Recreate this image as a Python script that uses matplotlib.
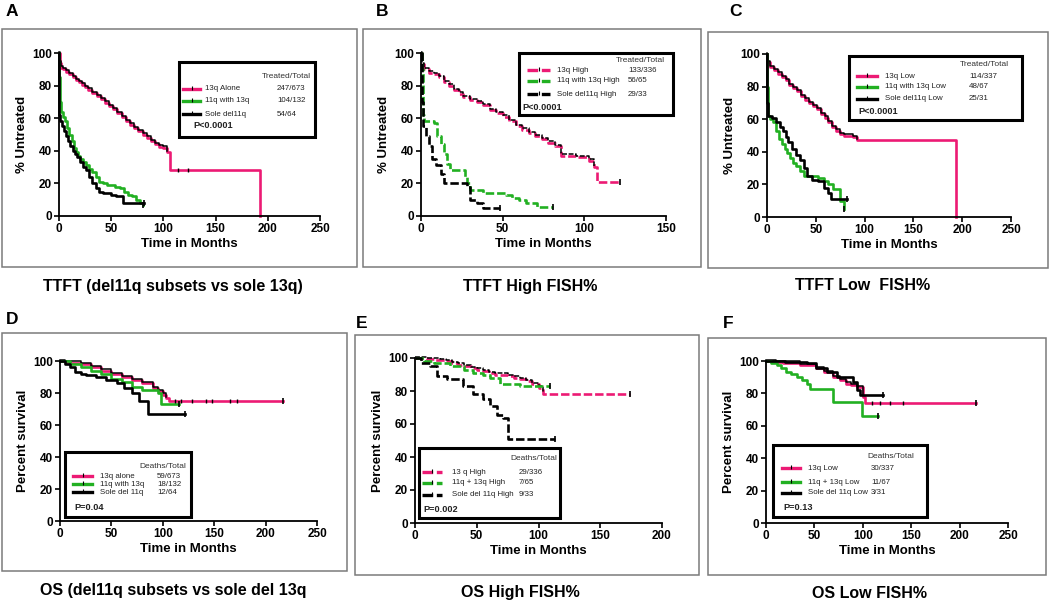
import numpy as np
import matplotlib
matplotlib.use('Agg')
import matplotlib.pyplot as plt
from matplotlib.patches import Rectangle

plt.rcParams['font.family'] = ['Liberation Sans', 'DejaVu Sans']

PINK = '#ec1a74'
GREEN = '#22b022'
BLACK = '#000000'

# ---------------- data ----------------
# A: TTFT del11q subsets vs sole 13q
a_13q_t = [0, 0.5, 2, 4, 7, 10, 13, 16, 19, 22, 25, 28, 32, 36, 40, 44, 48, 52, 56, 60,
           64, 68, 72, 76, 80, 84, 88, 92, 96, 100, 103, 106, 192.5]
a_13q_s = [100, 94, 91, 90, 88.5, 87, 85, 83.5, 82, 80.5, 79, 77.5, 75.5, 73.5, 71.5, 69.5,
           67.5, 65.5, 63, 60.5, 58, 56, 54, 52, 50, 48, 46, 44, 42.5, 42, 39, 28.5, 0]
a_11q_t = [0, 0.3, 1, 2, 4, 6, 8, 10, 12, 14, 16, 18, 20, 23, 26, 29, 32, 35, 38, 42, 46,
           50, 54, 58, 62, 66, 70, 74, 78, 80.5]
a_11q_s = [100, 85, 70, 64, 61, 58, 54, 50, 46, 42, 39, 37, 35, 33, 31, 29, 27, 24, 21, 20,
           19, 19, 18, 17, 15, 13, 12, 10, 8, 7]
a_sole_t = [0, 0.3, 1, 3, 5, 7, 9, 11, 13, 15, 17, 20, 23, 26, 29, 32, 35, 38, 42, 46, 50,
            55, 61, 70, 81]
a_sole_s = [100, 62, 58, 55, 52, 49, 46, 43, 40, 38, 36, 33, 30, 28, 24, 20, 17, 15, 14, 14,
            13, 12, 8, 8, 8]

# B: TTFT high FISH%
b_13q_t = [0, 0.5, 2, 5, 8, 11, 14, 17, 20, 23, 26, 30, 34, 38, 42, 46, 50, 54, 58, 62, 66,
           70, 74, 78, 82, 86, 90, 95, 100, 103, 106, 108, 122]
b_13q_s = [100, 93, 90, 88, 87, 85, 82, 80, 77, 75, 73, 71, 70, 68, 65, 63, 61, 58, 55, 53,
           51, 49, 47, 45, 43, 37, 37, 36, 36, 34, 30, 21, 21]
b_11q_t = [0, 0.5, 1, 2, 8, 10, 12, 14, 16, 18, 24, 27, 28, 30, 38, 46, 52, 56, 60, 64, 68, 71, 81]
b_11q_s = [100, 90, 62, 58, 57, 49, 44, 38, 32, 28, 28, 24, 20, 16, 14, 14, 13, 11, 10, 8, 8,
           5.5, 5.5]
b_sole_t = [0, 0.5, 1.5, 3, 5, 7, 9, 12, 14, 18, 24, 28, 30, 34, 38, 48.5]
b_sole_s = [100, 70, 55, 49, 43, 35, 31, 26, 20, 20, 20, 18, 10, 8, 5, 5]

# C: TTFT low FISH%
c_13q_t = [0, 0.5, 3, 7, 11, 15, 19, 23, 27, 31, 35, 39, 43, 47, 51, 55, 59, 63, 67, 71, 75,
           79, 83, 88, 92, 194]
c_13q_s = [100, 95, 92, 90, 88, 86, 84, 81, 79, 77, 74, 72, 70, 68, 66, 63, 61, 58, 55, 53,
           51, 50, 50, 49, 47.3, 0]
c_11q_t = [0, 0.3, 1, 3, 6, 9, 12, 15, 18, 21, 24, 27, 30, 34, 38, 45, 52, 58, 62, 68, 72, 75, 78.5]
c_11q_s = [100, 80, 62, 60, 58, 53, 48, 45, 42, 39, 36, 33, 31, 28, 25, 25, 24, 22, 20, 17,
           17, 10, 5]
c_sole_t = [0, 0.3, 1, 5, 9, 13, 16, 19, 22, 26, 30, 34, 38, 41, 46, 52, 58, 62, 66, 82]
c_sole_s = [100, 70, 62, 61, 58, 55, 53, 49, 46, 42, 38, 35, 30, 25, 23, 22, 18, 15, 11, 11]

# D: OS del11q subsets vs sole del13q
d_13q_t = [0, 5, 10, 20, 30, 40, 50, 60, 70, 80, 90, 95, 100, 103, 106, 217]
d_13q_s = [100, 99.5, 99, 98, 96, 94, 92, 90, 88, 86, 83, 81, 79, 77, 75, 75]
d_11q_t = [0, 10, 20, 30, 40, 50, 60, 70, 80, 95, 98, 116]
d_11q_s = [100, 98, 96, 94, 92, 89, 87, 84, 82, 80, 73, 73]
d_sole_t = [0, 5, 10, 15, 20, 25, 35, 45, 55, 62, 70, 77, 86, 122]
d_sole_s = [100, 98, 96, 93, 92, 91, 90, 88, 86, 83, 80, 75, 67, 67]

# E: OS high FISH%
e_13q_t = [0, 5, 10, 15, 20, 25, 30, 35, 40, 45, 50, 55, 60, 65, 70, 75, 80, 85, 90, 95,
           100, 104, 174]
e_13q_s = [100, 99.8, 99.5, 99, 98.5, 98, 97, 96, 95, 94, 93, 92, 91, 90, 90, 89, 88, 87,
           86, 84, 82, 78, 78]
e_11q_t = [0, 7, 15, 28, 40, 47, 55, 61, 69, 85, 104, 109]
e_11q_s = [100, 98, 97, 95, 93, 91, 90, 88, 84, 83, 83, 83]
e_sole_t = [0, 5, 12, 17.6, 26, 39, 47, 55, 61, 66, 71.6, 75.7, 113.5]
e_sole_s = [100, 97, 95, 89, 87, 83, 78, 75, 71, 65.5, 63.5, 51, 51]

# F: OS low FISH%
f_13q_t = [0, 10, 18, 35, 52, 60, 69.5, 76, 83, 88, 93.5, 100, 102, 217]
f_13q_s = [100, 99.5, 99, 97.5, 95.5, 93, 90, 88, 86, 85, 84, 78, 74, 74]
f_11q_t = [0, 5, 11, 16, 21, 26, 31.6, 37, 42, 45, 66, 69.5, 97, 98.7, 116]
f_11q_s = [100, 99, 97.5, 95.5, 93.4, 92, 90, 88, 86, 83, 83, 75, 75, 66, 66]
f_sole_t = [0, 20, 42, 52, 62.6, 73, 80, 90, 93.5, 97, 121]
f_sole_s = [100, 99.5, 98.5, 95.5, 93.4, 90, 90, 87, 82, 79, 79]

# ---------------- figure ----------------
W, H = 1050, 601
fig = plt.figure(figsize=(W / 100, H / 100), dpi=100)
fig.patch.set_facecolor('white')


def px_axes(x0, x1, ybot, ytop):
    return fig.add_axes([x0 / W, 1 - ybot / H, (x1 - x0) / W, (ybot - ytop) / H])


def km(ax, t, s, color, ls='-', over=None):
    ax.plot(t, s, drawstyle='steps-post', color=color, lw=1.9, linestyle=ls, clip_on=False)
    if over is not None:
        n = sum(1 for x in t if x <= over)
        ax.plot(t[:n], np.array(s[:n]) + 0.8, drawstyle='steps-post', color=BLACK, lw=1.1,
                linestyle=ls, clip_on=False)
    if s[-1] > 0:
        ax.plot(t[-1], s[-1], marker='|', color=BLACK, ms=4, mew=1.2, clip_on=False)


def style(ax, xmax, xstep, ylabel):
    ax.set_xlim(0, xmax)
    ax.set_ylim(0, 100)
    ax.set_xticks(np.arange(0, xmax + 1, xstep))
    ax.set_yticks(np.arange(0, 101, 20))
    for sp in ['top', 'right']:
        ax.spines[sp].set_visible(False)
    for sp in ['left', 'bottom']:
        ax.spines[sp].set_linewidth(1.3)
    ax.tick_params(direction='out', length=3.5, width=1.2, labelsize=8.5, pad=1.5)
    for lab in ax.get_xticklabels() + ax.get_yticklabels():
        lab.set_fontweight('bold')
    ax.set_xlabel('Time in Months', fontsize=9.5, fontweight='bold', labelpad=2)
    ax.set_ylabel(ylabel, fontsize=9.5, fontweight='bold', labelpad=3)
    ax.patch.set_alpha(0)


dash = (0, (3.2, 1.1))

axA = px_axes(59, 320, 216, 53)
km(axA, a_13q_t, a_13q_s, PINK, over=104)
km(axA, a_11q_t, a_11q_s, GREEN)
km(axA, a_sole_t, a_sole_s, BLACK)
axA.plot([114, 124], [28.5, 28.5], ls='none', marker='|', color=BLACK, ms=3)
style(axA, 250, 50, '% Untreated')

axB = px_axes(421, 666, 216, 53)
km(axB, b_13q_t, b_13q_s, PINK, ls=dash, over=107)
km(axB, b_11q_t, b_11q_s, GREEN, ls=dash)
km(axB, b_sole_t, b_sole_s, BLACK, ls=dash)
style(axB, 150, 50, '% Untreated')

axC = px_axes(767, 1011, 217, 54)
km(axC, c_13q_t, c_13q_s, PINK, over=106)
km(axC, c_11q_t, c_11q_s, GREEN)
km(axC, c_sole_t, c_sole_s, BLACK)
style(axC, 250, 50, '% Untreated')

axD = px_axes(60, 317, 521, 361)
km(axD, d_13q_t, d_13q_s, PINK, over=104)
km(axD, d_11q_t, d_11q_s, GREEN)
km(axD, d_sole_t, d_sole_s, BLACK)
axD.plot([112, 118, 128, 142, 148, 165, 172], [75] * 7, ls='none', marker='|', color=BLACK, ms=3)
style(axD, 250, 50, 'Percent survival')

axE = px_axes(415, 662, 523, 358)
km(axE, e_13q_t, e_13q_s, PINK, ls=dash, over=104)
km(axE, e_11q_t, e_11q_s, GREEN, ls=dash)
km(axE, e_sole_t, e_sole_s, BLACK, ls=dash)
style(axE, 200, 50, 'Percent survival')

axF = px_axes(766, 1008, 523, 361)
km(axF, f_13q_t, f_13q_s, PINK, over=101)
km(axF, f_11q_t, f_11q_s, GREEN)
km(axF, f_sole_t, f_sole_s, BLACK)
axF.plot([110, 118, 128, 142], [74] * 4, ls='none', marker='|', color=BLACK, ms=3)
style(axF, 250, 50, 'Percent survival')

# ---------------- overlay: frames, titles, legends ----------------
ov = fig.add_axes([0, 0, 1, 1], zorder=10)
ov.set_xlim(0, W)
ov.set_ylim(H, 0)
ov.axis('off')
ov.patch.set_alpha(0)

frames = [(2, 29, 357, 267), (363, 29, 701, 267), (708, 32, 1048, 268),
          (2, 333, 347, 571), (355, 335, 699, 575), (708, 338, 1046, 575)]
for x0, y0, x1, y1 in frames:
    ov.add_patch(Rectangle((x0, y0), x1 - x0, y1 - y0, fill=False, ec='#7a7a7a', lw=1.1))

panel_letters = ['A', 'B', 'C', 'D', 'E', 'F']
letter_xy = [(12, 12), (382, 12), (735, 12), (12, 320), (362, 323), (728, 323)]
for s, (x, y) in zip(panel_letters, letter_xy):
    ov.text(x, y, s, fontsize=12.5, fontweight='bold', ha='center', va='center')

titles = ['TTFT (del11q subsets vs sole 13q)', 'TTFT High FISH%', 'TTFT Low  FISH%',
          'OS (del11q subsets vs sole del 13q', 'OS High FISH%', 'OS Low FISH%']
title_xy = [(173, 286), (530, 286), (863, 286), (173, 590), (520, 593), (870, 593)]
for s, (x, y) in zip(titles, title_xy):
    ov.text(x, y, s, fontsize=11.5, fontweight='bold', ha='center', va='center')

legends = [
    dict(box=(179, 62, 315, 137), head='Treated/Total', head_xy=(311, 76),
         labels=['13q Alone', '11q with 13q', 'Sole del11q'],
         values=['247/673', '104/132', '54/64'], ys=[89, 101, 114],
         sx=(183, 200), lx=205, vx=277, p='P<0.0001', p_xy=(193, 126), ls='-'),
    dict(box=(519, 53, 673, 115), head='Treated/Total', head_xy=(665, 61),
         labels=['13q High', '11q with 13q High', 'Sole del11q High'],
         values=['133/336', '56/65', '29/33'], ys=[70, 81, 94],
         sx=(527, 550), lx=557, vx=628, p='P<0.0001', p_xy=(522, 107), ls=dash),
    dict(box=(849, 56, 1022, 120), head='Treated/Total', head_xy=(1009, 65),
         labels=['13q Low', '11q with 13q Low', 'Sole del11q Low'],
         values=['114/337', '48/67', '25/31'], ys=[76, 87, 99],
         sx=(857, 877), lx=885, vx=969, p='P<0.0001', p_xy=(858, 112), ls='-'),
    dict(box=(65, 452, 191, 517), head='Deaths/Total', head_xy=(186, 466),
         labels=['13q alone', '11q with 13q', 'Sole del 11q'],
         values=['59/673', '18/132', '12/64'], ys=[476, 484, 492],
         sx=(73, 92), lx=100, vx=157, p='P=0.04', p_xy=(74, 507), ls='-'),
    dict(box=(419, 448, 560, 518), head='Deaths/Total', head_xy=(557, 458),
         labels=['13 q High', '11q + 13q High', 'Sole del 11q High'],
         values=['29/336', '7/65', '9/33'], ys=[472, 483, 495],
         sx=(422, 442), lx=452, vx=519, p='P=0.002', p_xy=(423, 510), ls=dash),
    dict(box=(773, 445, 927, 517), head='Deaths/Total', head_xy=(914, 456),
         labels=['13q Low', '11q + 13q Low', 'Sole del 11q Low'],
         values=['30/337', '11/67', '3/31'], ys=[468, 482, 493],
         sx=(782, 800), lx=808, vx=871, p='P=0.13', p_xy=(783, 507), ls='-'),
]
colors = [PINK, GREEN, BLACK]
for lg in legends:
    x0, y0, x1, y1 = lg['box']
    ov.add_patch(Rectangle((x0, y0), x1 - x0, y1 - y0, fc='white', ec=BLACK, lw=2.2))
    ov.text(lg['head_xy'][0], lg['head_xy'][1], lg['head'], fontsize=6.0, ha='right',
            va='center', color='#333333')
    for lab, val, yy, c in zip(lg['labels'], lg['values'], lg['ys'], colors):
        ov.plot(lg['sx'], [yy, yy], color=c, lw=2.4, linestyle=lg['ls'])
        ov.plot((lg['sx'][0] + lg['sx'][1]) / 2, yy - 1, marker='|', color=BLACK, ms=3, mew=0.8)
        ov.text(lg['lx'], yy, lab, fontsize=5.7, ha='left', va='center', color='#222222')
        ov.text(lg['vx'], yy, val, fontsize=5.7, ha='left', va='center', color='#222222')
    ov.text(lg['p_xy'][0], lg['p_xy'][1], lg['p'], fontsize=6.6, fontweight='bold',
            ha='left', va='center', color='#222222')

fig.savefig('out.png', dpi=100)
